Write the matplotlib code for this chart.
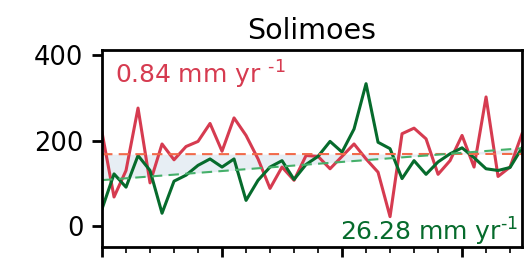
import numpy as np
import matplotlib
matplotlib.use("Agg")
import matplotlib.pyplot as plt
from matplotlib.ticker import MultipleLocator

years = np.arange(1980, 2016)
red_values = [219, 68, 130, 276, 101, 192, 155, 186, 198, 240, 175, 253, 212, 157, 88,
              138, 107, 165, 163, 134, 163, 192, 157, 126, 22, 216, 229, 204, 121, 153,
              212, 138, 302, 116, 138, 216]
green_values = [40, 122, 91, 165, 130, 30, 105, 119, 142, 157, 138, 157, 60, 107, 138,
                 153, 109, 144, 163, 198, 173, 227, 333, 196, 181, 111, 153, 121, 150, 169,
                 183, 160, 134, 130, 137, 183]
title = "Solimoes"
red_label = "0.84 mm yr $^{\u20101}$"
green_label = "26.28 mm yr$^{\u20101}$"

red_c = "#d63b50"
green_c = "#066b2c"
red_trend_c = "#f26a4a"
green_trend_c = "#45b06a"

x = years.astype(float)
rp = np.polyfit(x, red_values, 1)
gp = np.polyfit(x, green_values, 1)
red_fit = np.polyval(rp, x)
green_fit = np.polyval(gp, x)

fig = plt.figure(figsize=(5.3, 2.6), dpi=100)
ax = fig.add_axes([0.1925, 0.05, 0.7925, 0.758])

ax.fill_between(x, red_fit, green_fit, color="#dde8f0", alpha=0.7, lw=0)
ax.plot(x, red_values, color=red_c, lw=2.2)
ax.plot(x, green_values, color=green_c, lw=2.2)
ax.plot(x, red_fit, color=red_trend_c, lw=1.5, ls=(0, (5, 3)))
ax.plot(x, green_fit, color=green_trend_c, lw=1.5, ls=(0, (5, 3)))

ax.set_xlim(1980, 2015)
ax.set_ylim(-49, 412)
ax.set_yticks([0, 200, 400])
ax.xaxis.set_major_locator(MultipleLocator(10))
ax.xaxis.set_minor_locator(MultipleLocator(2))
ax.set_xticklabels([])
ax.tick_params(axis="y", labelsize=18.5, width=2, length=7.5, pad=6)
ax.tick_params(axis="x", which="major", width=2, length=7)
ax.tick_params(axis="x", which="minor", width=1.2, length=4)
for s in ax.spines.values():
    s.set_linewidth(2)

ax.set_title(title, fontsize=20.5, pad=8)
ax.text(0.03, 0.83, red_label, transform=ax.transAxes, color=red_c, fontsize=18,
        ha="left", va="baseline")
ax.text(0.99, 0.03, green_label, transform=ax.transAxes, color=green_c, fontsize=18,
        ha="right", va="baseline")

fig.savefig("out.png", dpi=100)
